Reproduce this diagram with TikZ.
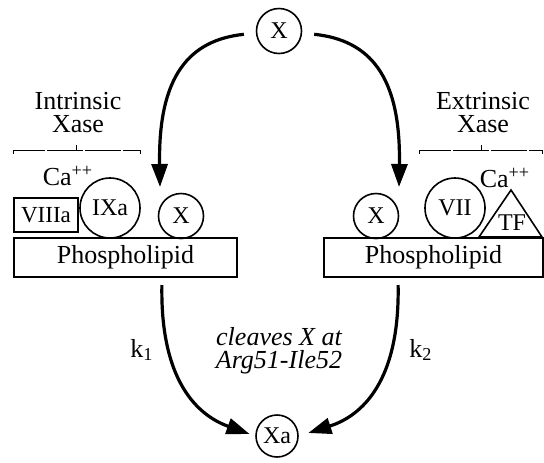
\documentclass[tikz,border=0pt]{standalone}
\usepackage{fontspec}
\setmainfont{Liberation Serif}
\usetikzlibrary{arrows.meta,positioning,calc}

\begin{document}
\begin{tikzpicture}[x=0.5pt, y=-0.5pt,
      factor/.style={circle, draw=black, line width=0.8pt, inner sep=0pt,
                     minimum size=22.5pt, font=\fontsize{12}{13}\selectfont},
      bigfactor/.style={factor, minimum size=30pt},
      cofactor/.style={rectangle, draw=black, line width=0.8pt, inner sep=0pt,
                       minimum width=32pt, minimum height=17pt,
                       font=\fontsize{11.5}{12}\selectfont},
      membrane/.style={rectangle, draw=black, line width=0.8pt, inner sep=0pt,
                       minimum height=19.5pt, font=\fontsize{13}{14}\selectfont},
      lbltext/.style={align=center, inner sep=0pt, font=\fontsize{13}{11.5}\selectfont},
      arrow/.style={-{Triangle[length=11.5pt,width=8pt]}, line width=1.6pt},
      bracket/.style={line width=0.4pt, dash pattern=on 18pt off 1pt},
    ]
      \useasboundingbox (0,0) rectangle (544,462);
      %% Substrate and product
      \node[factor] (topx) at (279, 31) {X};
      \node[factor, minimum size=21pt] (xa) at (277, 436) {Xa};
      %% Intrinsic Xase on phospholipid
      \node[membrane, minimum width=111.5pt] (plL) at (125.5, 257.5) {Phospholipid};
      \node[cofactor] (viiia) at (46, 215) {VIIIa};
      \node[bigfactor] (ixa) at (110, 208) {IXa};
      \node[factor] (xL) at (181, 216) {X};
      \node[lbltext] (caL) at (68, 176) {Ca\textsuperscript{++}};
      \node[lbltext] (intr) at (78, 113) {Intrinsic\\Xase};
      \draw[bracket] (13,154) -- (13,150) -- (140,150) -- (140,154);
      \draw[line width=0.4pt] (76,150) -- (76,145);
      %% Extrinsic Xase on phospholipid
      \node[membrane, minimum width=109.5pt] (plR) at (433.5, 257.5) {Phospholipid};
      \node[factor] (xR) at (376, 216) {X};
      \node[bigfactor] (vii) at (455, 208) {VII};
      \draw[line width=0.8pt] (479,237) -- (511,190) -- (542,237) -- cycle;
      \node[inner sep=0pt, font=\fontsize{12}{13}\selectfont] (tf) at (512, 223) {TF};
      \node[lbltext] (caR) at (505, 178) {Ca\textsuperscript{++}};
      \node[lbltext] (extr) at (483, 113) {Extrinsic\\Xase};
      \draw[bracket] (419,154) -- (419,150) -- (542,150) -- (542,154);
      \draw[line width=0.4pt] (481,150) -- (481,145);
      %% X recruited to each complex
      \coordinate (tipL) at (160, 187);
      \coordinate (tipR) at (399, 187);
      \draw[arrow, shorten <=6pt] (topx.185) .. controls (190,40) and (158,75) .. (tipL);
      \draw[arrow, shorten <=6pt] (topx.355) .. controls (369,40) and (401,75) .. (tipR);
      %% Activation to Xa
      \coordinate (srcL) at (162, 279);
      \coordinate (srcR) at (398, 279);
      \draw[arrow, shorten <=3pt, shorten >=3pt] (srcL) .. controls (160,390) and (205,418) .. (xa.west);
      \draw[arrow, shorten <=3pt, shorten >=5pt] (srcR) .. controls (400,390) and (355,418) .. (xa.east);
      \node[lbltext] (k1) at (142, 350) {k\textsubscript{1}};
      \node[lbltext] (k2) at (421, 350) {k\textsubscript{2}};
      \node[lbltext, font=\fontsize{13}{11.5}\selectfont\itshape] (cleave) at (279, 351)
            {cleaves X at\\Arg51-Ile52};
    \end{tikzpicture}
\end{document}
